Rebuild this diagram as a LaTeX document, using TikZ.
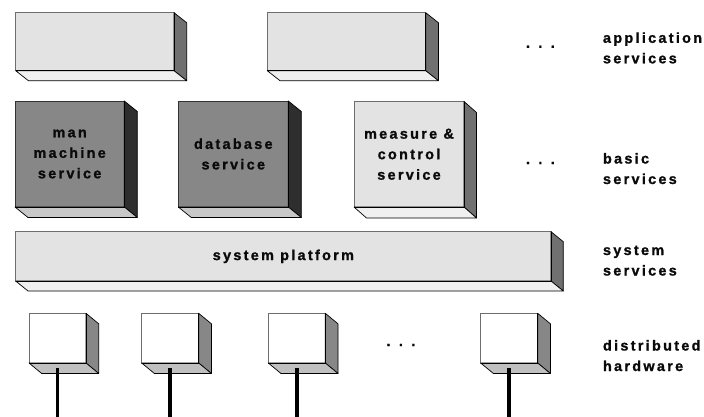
\documentclass[tikz,border=0pt]{standalone}
\usepackage{fontspec}
\setmainfont{Liberation Sans}
\newfontfamily\labfont[LetterSpace=16, FakeBold=1.2]{Liberation Sans Bold}
\newcommand\labtext{\labfont\fontsize{14.4}{20.5}\selectfont}
\usetikzlibrary{calc}
\definecolor{litefront}{HTML}{E3E3E3}
\definecolor{liteside}{HTML}{707070}
\definecolor{litebottom}{HTML}{F0F0F0}
\definecolor{darkfront}{HTML}{878787}
\definecolor{darkside}{HTML}{2E2E2E}
\definecolor{darkbottom}{HTML}{C8C8C8}
\definecolor{hwside}{HTML}{878787}
\definecolor{hwbottom}{HTML}{C0C0C0}
\definecolor{txt}{HTML}{0A0A0A}
\definecolor{edgegray}{HTML}{6E6E6E}
\newcommand\cubefaces[5]{%
  \filldraw[fill=#2, draw=black, line width=.7pt, line join=round] (#1.north east) -- ++(#4,#5) -- ($(#1.south east)+(#4,#5)$) -- (#1.south east) -- cycle;
  \filldraw[fill=#3, draw=black, line width=.7pt, line join=round] (#1.south west) -- (#1.south east) -- ($(#1.south east)+(#4,#5)$) -- ($(#1.south west)+(#4,#5)$) -- cycle;
  \draw[black, line width=.7pt] (#1.south west) -- (#1.south east) -- (#1.north east);
}
\begin{document}
\begin{tikzpicture}[x=1pt,y=-1pt,
  front/.style={rectangle, inner sep=0pt, outer sep=0pt, draw=edgegray, line width=.7pt, align=center, font=\labtext, text=txt, anchor=north west},
  lab/.style={inner sep=0pt, outer sep=0pt, align=left, font=\labtext, text=txt, anchor=base west},
  dots/.style={inner sep=0pt, outer sep=0pt, font=\labtext, text=txt, anchor=base west},
  bus/.style={line width=3.5pt, black}]
\useasboundingbox (0,0) rectangle (704,416);
\fill[white] (0,0) rectangle (704,416);
% application services
\node[front, fill=litefront, minimum width=158.3pt, minimum height=58pt] (a1) at (15.7,12.7) {};
\cubefaces{a1}{liteside}{litebottom}{12.7}{10}
\node[front, fill=litefront, minimum width=158.4pt, minimum height=58pt] (a2) at (267.3,12.7) {};
\cubefaces{a2}{liteside}{litebottom}{12.7}{10}
% basic services
\node[front, fill=darkfront, draw=black!80, minimum width=109.3pt, minimum height=106pt] (b1) at (15,101) {man\\machine\\service};
\cubefaces{b1}{darkside}{darkbottom}{13}{10.5}
\node[front, fill=darkfront, draw=black!80, minimum width=110pt, minimum height=106pt] (b2) at (178.3,101) {database\\service};
\cubefaces{b2}{darkside}{darkbottom}{13}{10.5}
\node[front, fill=litefront, minimum width=110pt, minimum height=105.5pt] (b3) at (354,101.5) {measure \&\\control\\service};
\cubefaces{b3}{liteside}{litebottom}{12.5}{11}
% system platform
\node[front, fill=litefront, minimum width=535.3pt, minimum height=49.3pt] (p) at (15.7,231.7) {system platform};
\cubefaces{p}{liteside}{litebottom}{12.3}{10}
% hardware
\node[front, fill=white, minimum width=57pt, minimum height=49.7pt] (h1) at (29,313.3) {};
\node[front, fill=white, minimum width=57pt, minimum height=49.7pt] (h2) at (141.7,313.3) {};
\node[front, fill=white, minimum width=57pt, minimum height=49.7pt] (h3) at (268.3,313.3) {};
\node[front, fill=white, minimum width=57pt, minimum height=49.7pt] (h4) at (480.7,313.3) {};
\foreach \h in {h1,h2,h3,h4}{\cubefaces{\h}{hwside}{hwbottom}{12.7}{10.5}}
\coordinate (bot) at (0,418);
\foreach \h in {h1,h2,h3,h4}{
  \coordinate (\h end) at (\h.south |- bot);
  \draw[bus] ($(\h.south)+(0,5)$) -- (\h end);
}
% dots
\node[dots] (d1) at (526,47.8) {. . .};
\node[dots] (d2) at (526,164) {. . .};
\node[dots] (d3) at (386.5,346) {. . .};
% labels (anchored at the baseline of the last line)
\node[lab] (lapp) at (603,63.3) {application\\services};
\node[lab] (lbas) at (603,184) {basic\\services};
\node[lab] (lsys) at (603,275.5) {system\\services};
\node[lab] (lhw) at (603,371) {distributed\\hardware};
\end{tikzpicture}
\end{document}
